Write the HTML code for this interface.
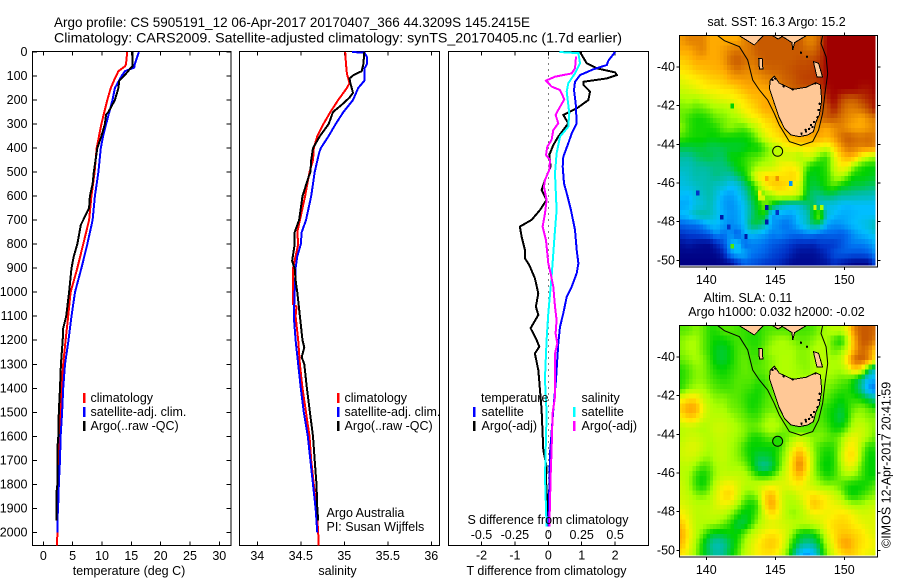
<!DOCTYPE html>
<html>
<head>
<meta charset="utf-8">
<title>Argo profile</title>
<style>
html,body{margin:0;padding:0;background:#fff;}
svg{display:block;font-family:"Liberation Sans",sans-serif;font-size:12.5px;fill:#000;}
.l{shape-rendering:crispEdges;}
</style>
</head>
<body>
<svg id="chart" width="900" height="580" viewBox="0 0 900 580"></svg>
<script>
// ---- profile data: depth (m) and value arrays ----
const depthTicks=[0,100,200,300,400,500,600,700,800,900,1000,1100,1200,1300,1400,1500,1600,1700,1800,1900,2000];
const tempTicks=[0,5,10,15,20,25,30];
const salTicks=[34,34.5,35,35.5,36];
const salTickLabels=["34","34.5","35","35.5","36"];
const dTTicks=[-2,-1,0,1,2];
const dSTicks=[-0.5,-0.25,0,0.25,0.5];
const dSTickLabels=["-0.5","-0.25","0","0.25","0.5"];

const tempClimDepth=[0,50,60,80,110,150,200,250,300,350,400,500,600,700,800,900,1000,1100,1200,1300,1400,1500,1600,1700,1800,1900,2000,2054];
const tempClim=[14.3,14.1,13.9,12.8,12.2,11.5,10.9,10.4,9.9,9.5,9.1,8.75,8.2,7.8,6.8,5.8,4.65,4.25,3.8,3.4,3.1,2.95,2.7,2.55,2.5,2.4,2.4,2.33];
const tempSatDepth=[0,50,65,80,100,150,200,250,300,350,400,500,600,700,800,900,1000,1100,1200,1300,1400,1500,1600,1700,1800,1850,1950,2000];
const tempSat=[16.3,15.6,15.5,13.9,13.35,12.2,11.8,11.25,10.7,10.2,9.8,9.4,8.8,8.4,7.5,6.5,5.4,4.8,4.3,3.7,3.4,3.2,2.95,2.85,2.65,2.6,2.4,2.4];
const tempArgoDepth=[0,60,70,100,120,150,200,250,260,300,350,400,500,550,600,650,700,720,800,850,900,1000,1100,1150,1200,1300,1400,1500,1600,1650,1800,1830,1950];
const tempArgo=[15.2,15.2,14.8,13.75,12.95,12.8,12.2,11.1,10.7,10.5,9.9,9.2,8.6,8.4,7.95,7.8,6.8,6.4,5.8,5.2,4.8,4.4,3.9,3.4,3.3,3,2.85,2.65,2.55,2.4,2.4,2.27,2.27];

const salClimDepth=[0,50,90,130,150,200,250,300,350,400,450,500,600,700,750,800,850,900,950,1000,1050,1060,1100,1200,1300,1400,1500,1600,1700,1800,1900,2000,2054];
const salClim=[35.01,35.02,35.03,35.06,35.03,34.93,34.84,34.76,34.69,34.65,34.64,34.6,34.55,34.49,34.46,34.47,34.44,34.41,34.41,34.41,34.41,34.45,34.44,34.47,34.49,34.52,34.56,34.6,34.62,34.65,34.68,34.7,34.705];
const salSatDepth=[0,3,20,50,70,120,150,200,250,300,350,400,420,500,600,700,750,800,850,900,1000,1100,1200,1300,1400,1500,1600,1700,1800,1900,2000];
const salSat=[35.09,35.23,35.26,35.26,35.23,35.23,35.16,35.1,34.99,34.9,34.82,34.73,34.71,34.66,34.62,34.56,34.51,34.5,34.46,34.44,34.43,34.42,34.44,34.47,34.5,34.535,34.58,34.61,34.64,34.67,34.69];
const salArgoDepth=[0,50,80,95,110,130,170,190,220,250,280,300,350,400,450,500,520,600,700,750,800,870,900,950,1000,1100,1200,1230,1270,1300,1400,1500,1600,1700,1800,1900,1950];
const salArgo=[35.23,35.22,35.2,35.11,35.06,35.07,35.1,35.06,34.97,34.87,34.84,34.82,34.72,34.64,34.62,34.61,34.59,34.52,34.48,34.43,34.43,34.4,34.43,34.44,34.46,34.49,34.52,34.54,34.51,34.54,34.57,34.605,34.64,34.66,34.68,34.69,34.7];

const dTSatDepth=[0,36,54,72,96,124,158,214,297,339,380,436,477,547,588,658,741,824,880,921,977,1019,1088,1144,1213,1324,1365,1490,1671,1879,1976];
const dTSat=[2,1.8,1.75,1.35,0.95,0.8,0.77,0.82,0.85,0.7,0.6,0.45,0.43,0.47,0.55,0.68,0.8,0.85,0.9,0.85,0.7,0.55,0.45,0.35,0.3,0.25,0.23,0.15,0.05,0.02,0];
const dTArgoDepth=[0,47,68,85,96,110,124,137,165,200,235,262,297,352,387,429,477,533,575,616,658,699,727,769,824,859,887,942,1005,1060,1095,1150,1199,1227,1255,1324,1352,1490,1657,1726,1782,1950];
const dTArgo=[0.95,1.15,1.45,2,2.05,1.75,1.05,1.05,1.25,1.2,0.85,0.45,0.6,0.3,0.15,0.03,0.07,-0.1,-0.2,-0.05,-0.25,-0.5,-0.85,-0.8,-0.7,-0.7,-0.57,-0.4,-0.3,-0.37,-0.3,-0.53,-0.35,-0.27,-0.4,-0.3,-0.28,-0.2,-0.15,-0.05,-0.07,0];
const dSSatDepth=[0,5,47,89,130,165,255,311,352,422,505,658,741,838,935,1088,1199,1324,1365,1504,1768,1976];
const dSSat=[0.0825,0.225,0.2375,0.2,0.15,0.1375,0.1575,0.15,0.0875,0.0625,0.05,0.0625,0.05,0.0375,0.025,0,-0.0125,-0.0225,-0.025,-0.0125,-0.025,-0.0125];
const dSArgoDepth=[19,68,89,103,119,144,158,197,241,262,297,325,366,394,429,450,491,533,561,616,672,727,783,838,880,921,977,1060,1116,1171,1213,1255,1324,1365,1435,1504,1657,1768,1879,1976];
const dSArgo=[0.2075,0.2,0.175,0.05,-0.0175,0.025,0.0875,0.12,0.075,0.055,0.075,0.0375,0.025,-0.0075,-0.0175,0.0125,0.0075,-0.025,-0.0325,-0.0125,-0.025,-0.0425,-0.0175,-0.0075,0,0.0175,0.0375,0.05,0.0625,0.055,0.0675,0.05,0.05,0.05,0.05,0.0325,0.025,0.0175,0.0125,0.0075];

// ---- map data: colour level per 0.5 degree cell, north to south ----
const sstLevels=[
[8.2,8.5,8.5,8.5,8,8,8,8,8,8.5,8.7,9,9,9,9,9,9,9,8.5,8.5,9,10,10,10,10,10,10,10,10],
[8,8,8.3,8.5,8,8,8.2,8.5,8.7,8.5,8.7,9,9,9,9,9,9,9,8.8,8.8,9.2,10,10,10,10,10,10,10,10],
[7.5,7.7,8,8,8,8,8.2,8.8,9,8.8,8.6,8.8,9,9,9,9,9,9.1,9.1,9.2,9.4,10,10,10,10,10,10,10,10],
[7.2,7.3,7.6,7.7,7.8,7.9,8,8.4,8.7,8.5,8.4,8.6,8.8,8.9,8.9,9,9.1,9.2,9.2,9.3,9.5,10,10,10,10,10,10,10,10],
[6.7,6.9,7,7.2,7.4,7.5,7.6,8,8.1,8.2,8.2,8.2,8.4,8.5,8.7,8.9,9,9.2,9.3,9.3,9.5,10,10,10,10,10,10,10,10],
[6.4,6.5,6.7,6.9,7,7,7.2,7.2,7.5,7.8,8,8,8,8.1,8.4,8.7,8.9,9,9,9,9.3,9.8,10,10,10,10,9.8,9.8,10],
[6,6.1,6,6.2,6.4,6.6,6.7,6.8,7,7.2,7.6,7.8,8,8,8,8,8,8,8,8,9,9.5,10,9.3,9,9,9.3,9.6,9.8],
[5.7,5.7,5.5,5.6,5.8,6,6,6.2,6.6,7,7.2,7.6,8,8,8,8,8,8,8,8.5,9,9,9.7,9,8.6,8.6,8.8,9.2,9.8],
[5.6,5.3,5.1,5.1,5.3,5.6,5.7,5.9,6,6.4,6.8,7,7.4,7.6,8,8,8,8,8,8.3,8.7,9,9,8.7,8.4,8.2,8,8.4,8.6],
[5.8,5.3,5.1,5.1,5.1,5.2,5.6,5.8,5.6,5.5,5.9,6.4,7,7.2,7.6,8,8,8,8,8.2,8.2,8,8.3,8.5,8.2,8,8,8.2,8.4],
[5.4,5.2,5.1,5.1,5,5,5.1,5,5,5,5.2,5.8,6.5,7,7.2,7.5,7.8,8,8,8.1,8,7.8,8.2,8.7,9,8.8,8.7,8.8,8.6],
[4.6,4.6,4.7,4.7,4.5,4.5,4.6,4.7,4.7,4.8,5,5,5.5,6,6.4,6.8,7,7,7.2,7,6.8,6.5,7.3,8.2,8.7,8.6,8.5,8.6,8.4],
[4,4,4.3,4.5,4.6,4.4,4.4,5,5,5.2,5.4,5.5,5.8,6,6.5,6.3,6.3,6,6.5,6.2,5.5,5.3,6.5,7.5,8,7.8,6.8,6.2,6],
[3.7,3.7,4,4,4.1,4.2,4.2,4.5,5,5.2,5.6,6,6.2,6.3,6.7,7,7,6.6,5.5,5,5,5.3,6.3,7,6.8,5.7,5.2,5,5],
[3.4,3.6,3.9,3.8,4,4.2,4,3.9,4.4,4.9,5.8,7,7.2,7.3,7.2,7.2,7.4,7,5,4.8,5,5.2,6,6.2,5.5,5,5,4.9,4.8],
[3.3,3.4,3.6,3.8,3.9,3.6,3.5,3,3.3,4.2,4.8,5.8,7,7.5,7.6,7.4,7,6.5,5,4.6,4.8,5.2,5.5,5,4.8,4.6,4.6,4.4,4.4],
[3,2.9,3.4,3.6,3.9,3.4,2.7,2.6,2.9,3.6,4.6,5.2,5.6,6,6.6,6.6,6.7,6.3,4.8,4.2,4.2,4.5,4.3,4,4,3.9,3.8,3.8,3.6],
[2.7,2.8,3.3,3.4,3.8,3.2,2.6,2.4,2.7,3.2,4.2,5,5.8,5,4,3.6,3.4,3.5,4.2,4.5,3.5,3.2,3.3,3,2.9,3,3,3,3],
[3,3.2,3.8,4,3.7,3.3,2.8,2.5,2.6,3.2,4.1,4.8,5,2.5,2.8,2.6,2.6,3.2,3.6,5,6,3.5,3,2.8,2.8,2.9,3,3,3],
[1.8,2,2,2.4,3,3,2.6,2.3,2.6,3,4.5,4.6,3.8,2.6,2.3,2,2.4,3,3.6,4.4,4.2,2.7,2.4,2.5,2.8,3,3.2,3.4,3.8],
[1,1.2,1.3,1.5,1.8,2.5,2,2.5,1.6,2.8,3,2.8,2.6,2.2,2.4,2.2,2,2,2.2,2.1,1.8,1.9,1.9,1.7,2,2.5,2.8,3,3.3],
[0.3,0.5,0.3,0.2,0.2,0.8,1.5,2.8,3.3,1.8,2.2,2.2,2,1.7,1.5,1.3,1,0.8,0.8,0.7,1.1,1.1,1.1,1.5,2,2.2,2.2,2.4,2.8],
[0.1,0.1,0.1,0.1,0.1,0.2,0.7,2.5,3,2.8,2.2,2,1.8,1.4,1.2,1,0.6,0.3,0.3,0.3,0.5,0.9,1.5,1.7,1.7,1.6,1.6,1.8,2.4],
[0,0,0,0,0,0,0.1,0.2,1,1.8,1.6,1.4,1.1,1,0.8,0.5,0.2,0.2,0.2,0.2,0.3,0.4,0.9,0.6,0.3,0.1,0.1,0.1,1.5]
];
const slaLevels=[
[5.5,5.6,5.8,5.6,5.2,5.2,5.5,5.5,5.4,5.3,5.2,5.2,5.4,5.5,5.5,5.5,5.4,5.4,5.4,5.5,5.8,6,6.2,6.2,7,8.5,9,9,8.8],
[5.8,6,6,5.6,5.2,5,5,5.2,5.4,5.3,5.2,5.2,5.5,5.8,6,6,5.8,5.6,5.6,5.8,6,6,5.4,5,6.2,8,9,9,8.5],
[5.8,6,6,5.6,5.2,4.8,4.7,5,5.4,5.5,5.3,5.3,5.7,6,6,6,6,5.8,5.8,6,6.2,6,5.6,5.8,6.6,8,8.8,8.5,7.5],
[5.6,5.8,6,5.8,5.3,4.8,4.7,5,5.4,5.6,5.4,5.4,5.6,5.8,6,6.1,6,5.8,5.8,6,6.2,6.1,6,6.2,7.5,8.8,9,8.5,7],
[5.2,5.5,5.8,5.8,5.4,5.1,5,5.2,5.4,5.6,5.5,5.5,5.6,5.8,6,6.1,6,5.9,5.8,6,6.2,6.1,6,6,6.5,7.5,7,4.8,3.5],
[5.2,5.5,5.8,5.8,5.5,5.3,5.2,5.3,5.5,5.5,5.5,5.3,5.4,5.8,6,6,6,6,6,6,6,5.9,5.8,5.6,5.5,5,4.2,3,2.8],
[5.3,5.8,6,6,5.7,5.5,5.4,5.4,5.5,5.4,5.3,5.1,5.3,5.6,5.8,6,6,6,6,6,5.8,5.7,5.5,5.3,5.2,4.8,4,2.5,2],
[6.8,7.2,7.2,6.4,6,5.8,5.8,5.6,5.5,5.3,5.1,5.1,5.4,5.6,5.8,6,6,6,6,6,5.7,5.5,5.2,5,5.2,5.2,5,4.5,4],
[7.6,8.2,8,6.8,6.2,6,6,5.7,5.6,5.4,5.1,5.2,5.5,5.6,5.7,5.9,6,6,6,5.8,5.5,5.2,5,4.7,5.2,5.6,5.8,5.5,5.2],
[7,7.5,7.3,6.5,6.2,6.2,6.2,6,5.8,5.6,5.4,5.4,5.8,6,5.8,5.7,5.6,5.6,5.6,5.6,5.5,5.2,4.9,4.5,5.2,6,6,5.8,5.8],
[6.2,6.3,6.2,6,6.2,6.4,6.4,6.2,6,5.8,5.6,5.7,6,6.2,6,5.7,5.5,5.4,5.4,5.5,5.6,5.4,5,5,5.6,6.2,6.4,6,5.8],
[6.2,6.4,6.4,6.2,6.1,6.3,6.3,6.1,5.9,5.7,5.2,5.1,5.4,5.6,5.4,5.6,5.9,6.2,6,5.8,5.8,5.6,5.5,5.8,6.5,6.8,6.4,6,5.6],
[6.4,6.6,6.6,6.3,6,6.2,6.3,6,5.8,5.3,5,5,5,5,5.2,5.8,6.6,7.2,6.6,5.8,5.4,5.2,5.3,6,7,7,6,5.2,5.2],
[6.4,6.5,6.4,6,5.9,6.2,6.3,6,5.8,5.4,5,4.6,4.6,4.8,5.4,6,7.2,8.2,7.2,6,5.3,5,5.2,6.2,7.2,7.2,5.8,5,5],
[6.2,6.2,5.8,5.4,5.6,6,6.2,6,6,5.8,5.2,4.3,4,4.5,5.4,6.2,7.4,8.6,7.4,6,5.2,4.9,5.2,6,6.8,6.6,5.5,5,5],
[6.2,6,5.3,5,5.4,6,6.3,6.3,6.3,6.2,5.8,5.3,5.2,5.4,6,6.5,7.2,7.8,7,6,5.5,5.1,5.3,5.8,6,5.8,5.4,5,5],
[6.4,6,5.3,5,5.6,6.4,6.9,7,6.6,6.2,6.2,6.4,6.6,6.8,6.7,6.6,6.8,7,6.6,6.3,6,5.8,5.8,5.5,5.1,5,5,5.2,5.5],
[6.4,6.2,5.8,5.7,6,6.6,7.3,7.4,6.6,5.8,5.6,6,7.4,7.8,6.8,6.2,6.2,6.6,7,7.2,7,6.8,6.4,6,5.2,5,5.3,5.6,5.8],
[6.6,6.4,6.2,6.2,6.2,6.6,6.8,6.6,6,5.3,5,5.4,7.2,8.2,7,6.2,6,6.2,6.8,7.7,7.4,7,6.8,6.6,6.2,6,6,6.2,6.3],
[7,6.6,6.2,6.2,6.3,6.3,6.2,5.8,5.2,4.8,5,5.6,6.6,7.2,6.8,6.2,5.8,6,6.4,6.8,6.8,6.8,7,7.2,7.1,6.8,6.5,6.5,6.6],
[7.6,6.8,6.2,6.1,6,5.9,5.6,5.2,4.6,4.6,5.2,6,6.4,6.6,6.5,6.4,6.3,6.2,6.2,6.3,6.5,7,7.3,7.4,7.3,7,6.8,6.6,6.6],
[8,7,6.2,5.6,4.9,4.7,4.8,5,5,5.6,6.2,6.6,7,7.2,7,6.6,5.8,5,4.8,5,5.6,6.6,7.2,7.6,7.6,7.4,7.2,6.8,6.6],
[7.8,6.8,6,5,4.2,3.8,4,4.6,5.2,6,6.5,7,7.4,7.6,7.2,6.4,5.2,4.4,4,4.2,4.9,6.2,7,8,8.2,7.6,7.2,7,6.8],
[7.2,6.6,5.8,5,4.3,3.9,4.1,4.8,5.4,6.2,6.6,7,7.2,7.2,6.8,6,4.6,3.2,2.5,3,4.4,5.8,6.6,7.2,7.6,7.4,7,6.8,6.6]
];
// individually read SST cells that stand out from their surroundings
const sstSpotLon=[139.26,144.33,144.33,145.05,141.02,141.55,142.76,141.79,143.75,143.85,144.2,147.95,148.43,146.02,144.45,145.05,141.8];
const sstSpotLat=[-46.4,-47.19,-48,-47.43,-47.83,-48.34,-48.78,-49.38,-46.45,-46.7,-46.8,-47.22,-47.31,-45.93,-45.76,-45.76,-42.05];
const sstSpotLevel=[1,0.5,0.5,1,0.5,1,0.5,5.5,7,6.5,6.5,6.5,6,2.5,8,8.3,5];
const noSpotLon=[];
const noSpotLat=[];
const noSpotLevel=[];
const lonTicks=[140,145,150];
const latTicks=[-40,-42,-44,-46,-48,-50];
const argoLon=[145.17];
const argoLat=[-44.36];
const argoSstLevel=[6.2];
const argoSlaLevel=[5.2];

// ---- geography (lon, lat) ----
const isobathLon=[140.83,141.31,142.4,143,143.36,143.85,144.45,144.93,145.29,146.02,146.86,147.71,148.14,148.43,148.6,148.8,148.68,148.31,148.43];
const isobathLat=[-38.38,-38.64,-38.95,-39.64,-40.67,-41.19,-41.71,-42.4,-43,-43.86,-44.05,-43.86,-43.26,-42.4,-41.36,-40.33,-39.47,-38.78,-38.38];
const tasLon=[144.64,144.93,145.29,146.26,147.23,147.95,148.27,148.36,148.19,147.95,147.76,147.35,146.74,146.14,145.66,145.25,144.93,144.57];
const tasLat=[-40.67,-40.47,-40.84,-41.16,-41.05,-40.81,-40.93,-41.71,-42.48,-42.83,-43.34,-43.52,-43.6,-43.52,-43.17,-42.57,-41.88,-41.1];
const vicWestLon=[142.4,143.48,144.14];
const vicWestLat=[-38.38,-38.86,-38.38];
const vicMidLon=[144.81,145.2,145.6];
const vicMidLat=[-38.38,-38.55,-38.38];
const vicEastLon=[145.42,146.21,146.26,146.4,147.23];
const vicEastLat=[-38.38,-38.74,-39.12,-38.74,-38.38];
const kingLon=[143.8,144.05,144.1,143.85];
const kingLat=[-39.55,-39.55,-40.1,-40.1];
const flindersLon=[147.76,148.14,148.43,148.02];
const flindersLat=[-39.72,-39.81,-40.53,-40.53];
const speckLon=[147.59,147.23,148.14,144.8,146.26,146.86,147.3,147.45,147.7,147.2,147.8,148.05,146.9,145.0,145.6,148.2,147.9];
const speckLat=[-43,-43.34,-42.22,-40.67,-41.16,-39.26,-39.47,-43.2,-43.1,-43.25,-42.85,-42.6,-43.45,-40.6,-41,-41.9,-40.85];

const NS='http://www.w3.org/2000/svg';
const svg=document.getElementById('chart');
function mk(tag,attrs,parent){
  const e=document.createElementNS(NS,tag);
  for(const k in attrs)e.setAttribute(k,attrs[k]);
  (parent||svg).appendChild(e);
  return e;
}
function label(str,x,y,anchor,name,size,fit){
  const t=mk('text',{x:x,y:y,'text-anchor':anchor||'start'});
  
  
  if(size)t.setAttribute('font-size',size);
  if(fit){t.setAttribute('textLength',fit);t.setAttribute('lengthAdjust','spacingAndGlyphs');}
  t.textContent=str;
  return t;
}
function line(x1,y1,x2,y2,name,parent){
  const l=mk('line',{x1:x1,y1:y1,x2:x2,y2:y2,stroke:'#000','stroke-width':1,class:'l'},parent);
  
  
  return l;
}

// ---- profile axes ----
const panelTop=51.5,panelBottom=545.5;
const yDepth=d=>52+d*0.2402;
const xTemp=v=>43.3+v*5.867;
const xSal=v=>257.3+(v-34)*87;
const xDT=v=>548.3+v*33.4;
const xDS=v=>548.3+v*133.6;

function frame(x0,x1,name){
  const r=mk('rect',{x:x0,y:panelTop,width:x1-x0,height:panelBottom-panelTop,fill:'none',stroke:'#000','stroke-width':1,class:'l'});
  
  
}
function profile(xs,ys,xf,color,name,w){
  const p=mk('polyline',{fill:'none',stroke:color,'stroke-width':w||2,'stroke-linejoin':'miter',class:'l',
    points:xs.map((v,i)=>xf(v).toFixed(1)+','+yDepth(ys[i]).toFixed(1)).join(' ')});
  
  
}
function legendBar(x,y,color,name){
  const r=mk('rect',{x:x,y:y,width:2.5,height:10,fill:color,class:'l'});
  
  
}

// titles
label('Argo profile: CS 5905191_12 06-Apr-2017 20170407_366 44.3209S 145.2415E',54,27,'start','title-line-1',14,476);
label('Climatology: CARS2009. Satellite-adjusted climatology: synTS_20170405.nc (1.7d earlier)',54,42.5,'start','title-line-2',14,568);

// temperature panel
frame(32.5,231,'temperature-panel-frame');
depthTicks.forEach(d=>{
  line(32.5,yDepth(d),37,yDepth(d),'depth-tick-left');
  line(226.5,yDepth(d),231,yDepth(d),'depth-tick-right');
  label(String(d),27.5,yDepth(d)+4,'end','depth-tick-label');
});
tempTicks.forEach(v=>{
  line(xTemp(v),panelTop,xTemp(v),panelTop+4,'temperature-tick-top');
  line(xTemp(v),panelBottom,xTemp(v),panelBottom-4,'temperature-tick-bottom');
  label(String(v),xTemp(v),560,'middle','temperature-tick-label');
});
profile(tempClim,tempClimDepth,xTemp,'#f00','temperature-climatology-line');
profile(tempSat,tempSatDepth,xTemp,'#00f','temperature-satellite-line');
profile(tempArgo,tempArgoDepth,xTemp,'#000','temperature-argo-line');
label('temperature (deg C)',129,575,'middle','temperature-axis-title');
legendBar(83,393,'#f00','temperature-legend-climatology-swatch');
legendBar(83,407,'#00f','temperature-legend-satellite-swatch');
legendBar(83,421,'#000','temperature-legend-argo-swatch');
label('climatology',90.5,402,'start','temperature-legend-climatology');
label('satellite-adj. clim.',90.5,416,'start','temperature-legend-satellite');
label('Argo(..raw -QC)',90.5,430,'start','temperature-legend-argo');

// salinity panel
frame(239.5,439.5,'salinity-panel-frame');
salTicks.forEach((v,i)=>{
  line(xSal(v),panelTop,xSal(v),panelTop+4,'salinity-tick-top');
  line(xSal(v),panelBottom,xSal(v),panelBottom-4,'salinity-tick-bottom');
  label(salTickLabels[i],xSal(v),560,'middle','salinity-tick-label');
});
profile(salClim,salClimDepth,xSal,'#f00','salinity-climatology-line');
profile(salSat,salSatDepth,xSal,'#00f','salinity-satellite-line');
profile(salArgo,salArgoDepth,xSal,'#000','salinity-argo-line');
label('salinity',337.5,575,'middle','salinity-axis-title');
legendBar(337,393,'#f00','salinity-legend-climatology-swatch');
legendBar(337,407,'#00f','salinity-legend-satellite-swatch');
legendBar(337,421,'#000','salinity-legend-argo-swatch');
label('climatology',344.5,402,'start','salinity-legend-climatology');
label('satellite-adj. clim.',344.5,416,'start','salinity-legend-satellite');
label('Argo(..raw -QC)',344.5,430,'start','salinity-legend-argo');
label('Argo Australia',326.5,517,'start','credit-argo-australia');
label('PI: Susan Wijffels',326.5,531,'start','credit-principal-investigator');

// difference panel
frame(448.5,648.5,'difference-panel-frame');
const zero=mk('line',{x1:xDT(0),y1:panelTop,x2:xDT(0),y2:panelBottom,stroke:'#000','stroke-width':1,'stroke-dasharray':'1 5',class:'l'});


dTTicks.forEach(v=>{
  line(xDT(v),panelTop,xDT(v),panelTop+4,'t-difference-tick-top');
  line(xDT(v),panelBottom,xDT(v),panelBottom-4,'t-difference-tick-bottom');
  label(String(v),xDT(v),559.5,'middle','t-difference-tick-label');
});
profile(dTArgo,dTArgoDepth,xDT,'#000','t-difference-argo-line');
profile(dTSat,dTSatDepth,xDT,'#00f','t-difference-satellite-line');
profile(dSSat,dSSatDepth,xDS,'#0ff','s-difference-satellite-line');
profile(dSArgo,dSArgoDepth,xDS,'#f0f','s-difference-argo-line');
dSTicks.forEach((v,i)=>{
  label(dSTickLabels[i],xDS(v),539,'middle','s-difference-tick-label');
});
label('S difference from climatology',467.5,524,'start','s-difference-axis-title');
label('T difference from climatology',466.5,575,'start','t-difference-axis-title');
label('temperature',481,402,'start','difference-legend-temperature-heading');
label('salinity',581.5,402,'start','difference-legend-salinity-heading');
legendBar(473,407,'#00f','difference-legend-t-satellite-swatch');
legendBar(473,421,'#000','difference-legend-t-argo-swatch');
legendBar(573,407,'#0ff','difference-legend-s-satellite-swatch');
legendBar(573,421,'#f0f','difference-legend-s-argo-swatch');
label('satellite',481.5,416,'start','difference-legend-t-satellite');
label('Argo(-adj)',481.5,430,'start','difference-legend-t-argo');
label('satellite',581.5,416,'start','difference-legend-s-satellite');
label('Argo(-adj)',581.5,430,'start','difference-legend-s-argo');

// ---- maps ----
const stops=[[0,0,130],[0,50,200],[0,110,240],[0,190,255],[0,190,160],[0,210,0],[170,255,0],[255,240,0],[255,170,0],[200,90,0],[160,0,0]];
function levelColor(v){
  v=Math.max(0,Math.min(10,v));
  const i=Math.min(9,Math.floor(v)),f=v-i;
  const a=stops[i],b=stops[i+1];
  return 'rgb('+a.map((c,k)=>Math.round(c+(b[k]-c)*f)).join(',')+')';
}
function sample(grid,lon,lat){
  const cf=Math.max(0,Math.min(28,(lon-138.25)/0.5));
  const rf=Math.max(0,Math.min(23,(-38.65-lat)/0.5));
  const c=Math.min(27,Math.floor(cf)),r=Math.min(22,Math.floor(rf));
  const u=cf-c,w=rf-r;
  return (grid[r][c]*(1-u)+grid[r][c+1]*u)*(1-w)+(grid[r+1][c]*(1-u)+grid[r+1][c+1]*u)*w;
}
function drawMap(grid,yOrigin,prefix,argoLevel,spotLon,spotLat,spotLevel){
  const mapLeft=679.5,mapRight=877.5,mapTop=yOrigin-31.5,mapBottom=yOrigin+200;
  const x=lon=>706.3+(lon-140)*13.8;
  const y=lat=>yOrigin+(-40-lat)*19.33;
  const pts=(lons,lats)=>lons.map((v,i)=>x(v).toFixed(1)+','+y(lats[i]).toFixed(1)).join(' ');
  const cells=mk('g',{class:'l'});
  
  
  const cellW=0.25*13.8,cellH=0.25*19.33;
  for(let j=0;j<48;j++){
    for(let i=0;i<57;i++){
      const lon=138+0.25*i,lat=-38.4-0.25*j;
      const px=x(lon),py=y(lat);
      const x0=Math.max(px,mapLeft),y0=Math.max(py,mapTop);
      const x1=Math.min(px+cellW+0.5,mapRight-2),y1=Math.min(py+cellH+0.5,mapBottom-1.5);
      if(x1<=x0||y1<=y0)continue;
      let level=sample(grid,lon+0.125,lat-0.125);
      spotLon.forEach((sx,k)=>{
        if(sx>=lon&&sx<lon+0.25&&spotLat[k]<=lat&&spotLat[k]>lat-0.25)level=spotLevel[k];
      });
      const cell=mk('rect',{x:x0,y:y0,width:x1-x0,height:y1-y0,fill:levelColor(level)},cells);
      
      
    }
  }
  const land=mk('g',{fill:'#ffc896',stroke:'#000','stroke-width':1,class:'l'});
  
  
  [[tasLon,tasLat,'tasmania'],[vicWestLon,vicWestLat,'victoria-west'],[vicMidLon,vicMidLat,'victoria-mid'],[vicEastLon,vicEastLat,'victoria-east'],[kingLon,kingLat,'king-island'],[flindersLon,flindersLat,'flinders-island']].forEach(s=>{
    const p=mk('polygon',{points:pts(s[0],s[1])},land);
    
    
  });
  speckLon.forEach((v,i)=>{
    const c=mk('circle',{cx:x(v),cy:y(speckLat[i]),r:1.2,fill:'#000',stroke:'none'},land);
    
    
  });
  const iso=mk('polyline',{points:pts(isobathLon,isobathLat),fill:'none',stroke:'#000','stroke-width':1});
  
  
  const marker=mk('circle',{cx:x(argoLon[0]),cy:y(argoLat[0]),r:5,fill:levelColor(argoLevel),stroke:'#000','stroke-width':1});
  
  
  const fr=mk('rect',{x:mapLeft,y:mapTop,width:mapRight-mapLeft,height:mapBottom-mapTop,fill:'none',stroke:'#000','stroke-width':1,class:'l'});
  
  
  lonTicks.forEach(v=>{
    line(x(v),mapTop,x(v),mapTop-3,prefix+'-lon-tick-top');
    line(x(v),mapBottom,x(v),mapBottom+3,prefix+'-lon-tick-bottom');
    label(String(v),x(v),mapBottom+17,'middle',prefix+'-lon-label');
  });
  latTicks.forEach(v=>{
    line(mapLeft,y(v),mapLeft-3,y(v),prefix+'-lat-tick-left');
    line(mapRight,y(v),mapRight+3,y(v),prefix+'-lat-tick-right');
    label(String(v),675,y(v)+4,'end',prefix+'-lat-label');
  });
}
drawMap(sstLevels,67,'sst-map',argoSstLevel[0],sstSpotLon,sstSpotLat,sstSpotLevel);
drawMap(slaLevels,357,'sla-map',argoSlaLevel[0],noSpotLon,noSpotLat,noSpotLevel);
label('sat. SST: 16.3 Argo: 15.2',776.5,26,'middle','sst-map-title');
label('Altim. SLA: 0.11',748,302,'middle','sla-map-title');
label('Argo h1000: 0.032 h2000: -0.02',776.5,316,'middle','sla-map-subtitle');
const stamp=label('©IMOS 12-Apr-2017 20:41:59',0,0,'start','imos-timestamp');
stamp.setAttribute('transform','translate(890.5,548) rotate(-90)');
</script>
</body>
</html>
